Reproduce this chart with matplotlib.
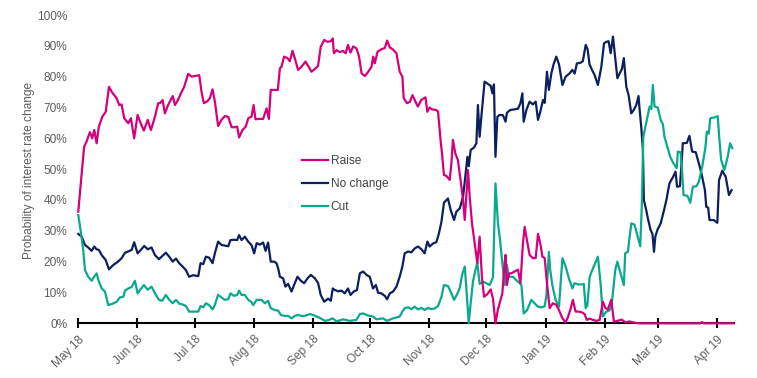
import matplotlib
matplotlib.use("Agg")
import matplotlib.pyplot as plt
import pandas as pd

plt.rcParams['font.family'] = ['Liberation Sans', 'DejaVu Sans']

START = "2018-05-01"
END_DAY = 343.5
series_names = ["Raise", "No change", "Cut"]
series_colors = ["#d4007f", "#0c1f5e", "#0aa98e"]
month_ticks = ["2018-05-01", "2018-06-01", "2018-07-01", "2018-08-01", "2018-09-01",
               "2018-10-01", "2018-11-01", "2018-12-01", "2019-01-01", "2019-02-01",
               "2019-03-01", "2019-04-01"]
month_labels = ["May 18", "Jun 18", "Jul 18", "Aug 18", "Sep 18", "Oct 18", "Nov 18",
                "Dec 18", "Jan 19", "Feb 19", "Mar 19", "Apr 19"]
y_ticks = [0, 10, 20, 30, 40, 50, 60, 70, 80, 90, 100]

# days since 1 May 2018, probability in %
raise_days = [0, 1.8, 3.1, 4.3, 6.1, 7.3, 8.4, 9.6, 10.8, 12.6, 14.4, 16.1, 17.5, 20.1, 21.5, 22.7,
              24.1, 26.2, 27.6, 29.3, 31.1, 32.7, 34.4, 36.4, 38.1, 40.2, 41.9, 42.8, 44.2, 45.4,
              47.1, 49.5, 50.7, 52.4, 54.2, 55.4, 57.6, 59.4, 61.1, 63.4, 64.6, 65.8, 67.6, 69,
              70.4, 71.6, 73.3, 75.1, 76.8, 78.6, 80.4, 82.1, 83.3, 84.3, 86.1, 87.8, 89.1, 90.8,
              91.9, 92.9, 95.2, 96.9, 98.7, 99.9, 100.9, 103, 104.6, 105.7, 106.5, 107.9, 109.7,
              110.9, 112.3, 113.5, 115.2, 117, 119.1, 120.5, 122.3, 124, 125.7, 127.1, 128.9,
              130.6, 132.4, 133.4, 134, 135.4, 137.1, 138.8, 140.2, 141.4, 142.7, 144.1, 145.8,
              147.2, 148.5, 150.2, 151.9, 153.7, 154.6, 155.4, 156.9, 159, 160.7, 161.9, 163.3,
              165, 166.8, 168.5, 169.9, 170.6, 172.3, 173.8, 175.2, 176.4, 178, 179.9, 182, 183,
              184.2, 185.4, 187.7, 188.6, 190, 190.7, 191.7, 193, 194.7, 195.6, 196.4, 197.7, 199,
              200.4, 201.7, 202.6, 203.5, 204.3, 205.2, 206.4, 207.8, 209.2, 210.4, 211.6, 212.7,
              214.5, 216.2, 217.4, 218.7, 220, 220.9, 222.3, 223.5, 224, 224.7, 225.8, 227, 228.8,
              230.5, 231.8, 233.1, 234, 235.2, 236.6, 238.3, 239.8, 241, 242.2, 243.3, 244.5,
              245.7, 247.1, 248.8, 250.6, 252, 253.8, 255.5, 256.7, 257.9, 259.3, 260.7, 262.4,
              264.2, 265.4, 266.6, 268, 269.8, 271.7, 273.3, 275, 276.3, 277.6, 279.4, 280.8,
              282.7, 284.8, 286.9, 289, 291.6, 294.2, 310, 326, 327, 328, 343.5]
raise_vals = [36.2, 48.7, 57.3, 58.9, 62, 60, 62.7, 58.4, 63.8, 67, 68.6, 76.7, 75.1, 73, 70.8, 71,
              66.5, 64.9, 66.5, 60, 67.6, 64.9, 62.5, 66, 62.7, 67, 71.4, 71.4, 72.4, 68.1,
              70.8, 73.7, 70.8, 72.6, 75.1, 76.5, 80.9, 80, 80.2, 80.5, 75.1, 71.4, 72, 73,
              75.9, 72, 64, 66, 67.2, 67, 63.6, 63.6, 63.8, 60.3, 62.7, 63.8, 66.5, 67,
              70.8, 66.2, 66.3, 66.3, 69.7, 66.3, 75.7, 75.7, 75.7, 82.7, 83.2, 86.5, 86,
              85, 88.4, 86, 82.2, 83.2, 84.9, 83.5, 81.6, 82.5, 83.5, 89.7, 91.9,
              91.3, 91.5, 92.4, 87.6, 88.6, 88, 88.3, 87.6, 90.3, 87.8, 89.8, 89.2,
              86.5, 81.1, 80.2, 81.5, 83.2, 86.5, 84.3, 88.1, 88.9, 89.3, 91.7, 89.5,
              88.8, 87.6, 81.6, 80, 73, 71.4, 71.8, 74, 72.4, 70.3, 72.5, 73.3, 68.6,
              70, 69.4, 69.2, 68.6, 58.9, 55, 48.1, 47.8, 46.5, 51.9, 59.5, 55, 53,
              46.5, 40, 33.5, 42, 49.7, 41, 32.4, 25.9, 19.5, 28.1, 15.1, 8.6,
              9.5, 11, 8, 0, 4.5, 6.5, 9.7, 19.5, 22.2, 12.4, 16.2, 16.2, 16.8,
              17.4, 13, 25.9, 31.3, 27, 22.2, 21.1, 21.2, 29, 25.9, 21.6, 21.2,
              13, 4.9, 6.5, 6, 4.3, 1.6, 0.3, 2, 4.3, 7.6, 3.8, 3.8,
              3.5, 3, 1.1, 1.5, 1.1, 0.8, 1.1, 7, 5, 4.5, 7.6, 0.5,
              0.8, 1.2, 0.3, 0.6, 0.2, 0, 0, 0, 0.4, 0, 0]

nochange_days = [0, 1.8, 3.5, 5.2, 7, 8.4, 9.6, 10.8, 12.3, 14.4, 16.1, 18.3, 20.6, 22.7, 24.5, 26.2,
                 28, 29.3, 31.1, 32.8, 34.6, 36.4, 38.4, 40.2, 42.3, 44, 45.9, 47.7, 49.5, 51.2,
                 52.9, 54.7, 56.4, 58.1, 60.2, 62.9, 64.1, 65.5, 66.9, 68.6, 70.4, 71.6, 73.3, 75.1,
                 76.8, 78.6, 79.8, 81.6, 83.3, 84.3, 85.6, 87.3, 89.1, 90.8, 92.2, 93.5, 95.2, 96.9,
                 98.2, 99.5, 100.9, 102.7, 103.9, 104.8, 105.7, 107.4, 108.6, 110, 111.8, 113.1,
                 114.9, 116.7, 118.4, 120.2, 121.9, 124, 125.7, 127.1, 128.9, 131, 132.4, 133.4,
                 134.5, 136.2, 138, 139.7, 141.4, 142.7, 144.4, 146.1, 147.6, 149.3, 151.1, 152.8,
                 154.5, 156, 157.2, 158.9, 160.7, 161.9, 163.3, 165, 166.8, 168.5, 169.9, 171.1,
                 172.9, 174.6, 176.4, 178.1, 179.9, 181.6, 183, 184.2, 186, 187.7, 189, 190.4,
                 191.7, 193.8, 195.2, 197, 198.2, 200, 201.7, 202.9, 204, 204.7, 205.7, 207.4,
                 208.7, 209.5, 210.4, 211.3, 213, 214.8, 216.2, 217.1, 217.9, 218.7, 219.7, 220.9,
                 222.6, 224, 224.7, 226.5, 228.8, 230.5, 231.8, 232.8, 233.5, 234.9, 236.6, 238.3,
                 239.8, 241, 242.2, 243.6, 244.5, 245.7, 246.7, 248, 249.2, 250.6, 252, 253.8,
                 255.5, 257.6, 259, 260.2, 261.4, 263.2, 264.5, 266, 267, 268, 269.3, 270.7,
                 272.4, 274.2, 275.6, 276.8, 278, 279.1, 280.3, 281.2, 282.6, 283.8, 285, 286,
                 287.3, 288.5, 289.9, 291.2, 292.5, 293.7, 294.2, 295.1, 296, 296.5, 297.7, 298.6,
                 300, 301, 301.8, 302.5, 303.6, 305.3, 307.1, 308.3, 309.9, 311.9, 313.1, 313.9,
                 315.4, 316.2, 316.9, 319, 320.4, 321.8, 323.7, 325.3, 326.7, 328.5, 329.2, 330.2,
                 330.9, 333.1, 335, 335.9, 337.6, 339.4, 341.1, 342.5]
nochange_vals = [29, 28.1, 25.4, 24.6, 23.5, 24.9, 24, 23.8, 22.1, 20.5, 17.5, 18.9, 19.9, 21.1, 22.9, 23.3,
                 23.8, 26.3, 22.7, 23.8, 25.1, 24, 24.6, 22.1, 20.8, 21.8, 22.9, 21.6, 20, 21,
                 19.5, 18.4, 17.3, 15.1, 15.6, 15.3, 19.5, 19.2, 21.6, 21.3, 19.5, 22.7, 26.5, 25.4,
                 25.2, 25, 27, 27.1, 27, 28.6, 27, 28.1, 26.5, 25.4, 22.7, 26, 25.5, 26.2,
                 23.5, 26.2, 20, 20, 19.5, 17.8, 15.1, 14.6, 11.9, 12.8, 10.3, 12.4,
                 15.1, 13.8, 13, 14.6, 15.7, 14.6, 13.1, 9.2, 7, 8, 7.3, 11.3,
                 10.8, 10.4, 10.6, 9.7, 11.3, 9.2, 10.3, 10.8, 16.2, 16.8, 15.7, 15.1,
                 11.3, 12.4, 9.9, 9.7, 8.9, 7.8, 9.7, 10.3, 11.9, 15.1, 18.4, 22.7,
                 23.3, 23, 24.3, 24.9, 24, 22.7, 26.5, 24.9, 25.9, 26.3, 29, 33,
                 39.1, 40.5, 36.8, 33.5, 36.2, 37.3, 41, 47.6, 54, 51, 56.2, 57,
                 58.4, 70.8, 60.5, 67, 78.4, 77.6, 77, 74.6, 77.5, 54, 67, 67.6,
                 67.5, 65.4, 68.3, 69.2, 69.4, 69.6, 71.4, 74.6, 65.4, 69.2, 71.9, 71,
                 71.9, 66, 68.6, 72.4, 71.5, 81.6, 75.7, 81.1, 84.1, 86.5, 84, 77.3,
                 80, 81.1, 82.2, 81, 84.3, 84.5, 85, 90.3, 88.9, 84, 82.2, 80.5,
                 77.3, 83.2, 90.8, 91.3, 91.5, 87.6, 93, 87.6, 79.5, 81, 82.5, 86,
                 76.7, 74, 68.1, 69.2, 70.8, 73.7, 69.8, 63.8, 56.2, 40, 36.8, 34,
                 30.3, 29, 23.2, 28.1, 30.3, 32.4, 36.8, 40, 45.4, 47.6, 49.2, 44.3,
                 44.5, 51.4, 58.4, 58.5, 60.8, 55.7, 55.5, 51.9, 48.6, 43.2, 37.8, 37.5,
                 33.5, 33.5, 32.6, 46.5, 49.5, 47.5, 41.6, 43.2]

cut_days = [0, 1.2, 2.6, 3.5, 5.2, 7, 8.4, 9.6, 10.8, 12.3, 14, 15.7, 17.8, 20.1, 21.8, 23.6, 24.5,
            26.2, 28, 29.7, 31.1, 32.8, 34.4, 36.4, 38.4, 40.2, 42.3, 44, 45.9, 47.7, 49.5, 51.2,
            52.9, 54.7, 56.4, 58.1, 60.2, 62.9, 64.1, 65.5, 66.9, 68.6, 70.4, 71.6, 73.3, 75.1,
            76.8, 78.6, 79.8, 81.6, 83.3, 84.3, 85.6, 87.3, 89.1, 90.8, 91.7, 93.5, 96.1, 97.8,
            99.5, 100.9, 103, 104.8, 106.2, 108.3, 110, 111.8, 113.5, 115.2, 117, 118.8, 121.4,
            123.1, 124.9, 127.1, 129.2, 131, 133.4, 135.4, 138.8, 142.3, 145.8, 147.6, 149.3,
            151.1, 152.8, 154.5, 156.3, 159.8, 161.9, 165, 168.5, 169.9, 171.1, 172.9, 174.6,
            176.4, 178.1, 179.9, 181.6, 183.3, 185.1, 186.8, 188.6, 190.4, 191.7, 193.8, 195.2,
            197, 198.8, 200, 201.2, 202.6, 203.5, 204.7, 205.7, 206.9, 208.2, 209.2, 210.4,
            212.2, 213.9, 215.6, 217.4, 218.7, 220, 221, 222.3, 223.5, 224.7, 225.8, 228, 229.6,
            231.4, 232.3, 233.5, 235.2, 237.5, 239.2, 241, 242.8, 244.5, 245.4, 246.7, 247.4,
            248.5, 250.2, 252, 253.8, 255.5, 257.2, 259, 260.2, 262, 263.8, 265, 266, 266.9,
            268.1, 269.8, 272.4, 273.8, 275, 276.8, 278.5, 279.7, 281.5, 282.6, 284.3, 286,
            286.7, 288.1, 289.9, 291.6, 293.3, 294.6, 295.4, 296.2, 297.7, 299.5, 300.4, 301.2,
            302.1, 303.8, 305.3, 306.5, 307.3, 308.7, 310.3, 312, 313.7, 314.3, 315.7, 316.6,
            317.3, 319.4, 320.8, 322.2, 324.1, 325.3, 327.1, 328.8, 329.5, 330.5, 331.3, 333.5,
            335.2, 336.1, 337, 338.7, 340.4, 341.7, 342.8]
cut_vals = [35.1, 30.3, 23.8, 17.3, 15.1, 13.8, 15.2, 16.2, 13.5, 11.3, 10.3, 5.9, 6.3, 7, 8.4, 8.6, 10.6,
            11.3, 11.8, 13.8, 9.7, 11.2, 12.4, 10.9, 11.9, 9.7, 7.6, 7.3, 9.2, 7.6, 6.5, 7.6,
            6.4, 6.1, 5.6, 3.8, 3.8, 3.8, 5.6, 5.2, 6.5, 5.9, 4.5, 6, 9.2, 8.4,
            7.6, 7.8, 9.7, 8.9, 9.2, 10.6, 9.2, 9.2, 7.6, 6.9, 5.9, 7.6, 7.6, 6.5,
            7.3, 4.9, 4.3, 4.1, 2.7, 2.4, 2.4, 1.6, 2.4, 2.7, 2.4, 2.4, 3,
            2.7, 2.2, 1.6, 0.8, 1, 1.6, 0.6, 1.3, 0.8, 1.1, 3, 3.2,
            2.7, 2.4, 2.2, 1.3, 1.6, 0.8, 1.6, 2.2, 3.8, 4.9, 5.2, 4.6,
            5.4, 4.5, 5, 4.3, 5, 4.6, 4.8, 5.6, 8.6, 12.4, 12.1, 10.3,
            7.6, 9.7, 11.5, 15.7, 18.4, 10.8, 0, 6.5, 13.5, 17.3, 19.5, 12.8,
            13.5, 13, 12.4, 14.9, 45.4, 32.4, 27.5, 19.5, 12.4, 18.9, 15.1, 15.1, 14,
            13, 12.4, 3.2, 4.2, 7.6, 6.5, 5.4, 5.2, 5.5, 9, 23.2, 17.3,
            12.4, 7.6, 5.4, 21.1, 18.4, 14.6, 11.3, 13, 12.6, 12.6, 12.8, 4.9, 5.9,
            15.1, 17.8, 21.6, 12.9, 2.2, 3.8, 4.2, 6.5, 17.3, 20, 16.2, 12.4,
            22.7, 23.2, 32.4, 32, 28, 25, 38, 60.5, 64.9, 70.3, 69.5, 77.3,
            70.3, 70, 66, 64.5, 60.5, 57.5, 54, 51.9, 50.3, 55.7, 55.5, 48.6,
            41.6, 41.3, 39.1, 44.3, 44.5, 45.9, 50.8, 57.3, 62.2, 61.5, 66.5, 66.8,
            67.2, 59.5, 53, 49.7, 53.9, 58.4, 56.8]


def to_dates(days):
    return pd.Timestamp(START) + pd.to_timedelta(days, unit="D")


FS = 8.6
GREY = "#5e5e5e"

fig = plt.figure(figsize=(7.57, 3.78), dpi=100)
ax = fig.add_axes([0.1034, 0.1447, 0.8656, 0.8156])

all_series = [(nochange_days, nochange_vals, 1), (cut_days, cut_vals, 2), (raise_days, raise_vals, 0)]
handles = {}
for days, vals, idx in all_series:
    ln, = ax.plot(to_dates(days), vals, color=series_colors[idx], lw=1.6,
                  solid_joinstyle="round", zorder=3, clip_on=False, label=series_names[idx])
    handles[idx] = ln

ax.set_ylim(0, 100)
ax.set_xlim(to_dates([0])[0], to_dates([END_DAY])[0])
ax.set_yticks(y_ticks)
ax.set_yticklabels([f"{v}%" for v in y_ticks])
ax.set_xticks(pd.to_datetime(month_ticks))
ax.set_xticklabels(month_labels, rotation=45, ha="right", rotation_mode="anchor")

for s in ["left", "right", "top"]:
    ax.spines[s].set_visible(False)
ax.spines["bottom"].set_linewidth(1.5)
ax.spines["bottom"].set_color("black")
ax.spines["bottom"].set_zorder(2)

ax.tick_params(axis="y", length=0, pad=8, labelsize=FS, labelcolor=GREY)
ax.tick_params(axis="x", direction="inout", length=6.5, width=1.5, color="black",
               pad=4, labelsize=FS, labelcolor=GREY)
ax.set_ylabel("Probability of interest rate change", fontsize=FS, color=GREY)
ax.yaxis.set_label_coords(-0.0653, 0.495)

leg = ax.legend([handles[0], handles[1], handles[2]], series_names,
                loc="upper left", bbox_to_anchor=(301.5 / 757, 1 - 155 / 378),
                bbox_transform=fig.transFigure, frameon=False, fontsize=FS,
                handlelength=2.2, handletextpad=0.25, labelspacing=0.93, borderpad=0,
                borderaxespad=0)
for t in leg.get_texts():
    t.set_color("#444444")

fig.savefig("out.png", dpi=100)
